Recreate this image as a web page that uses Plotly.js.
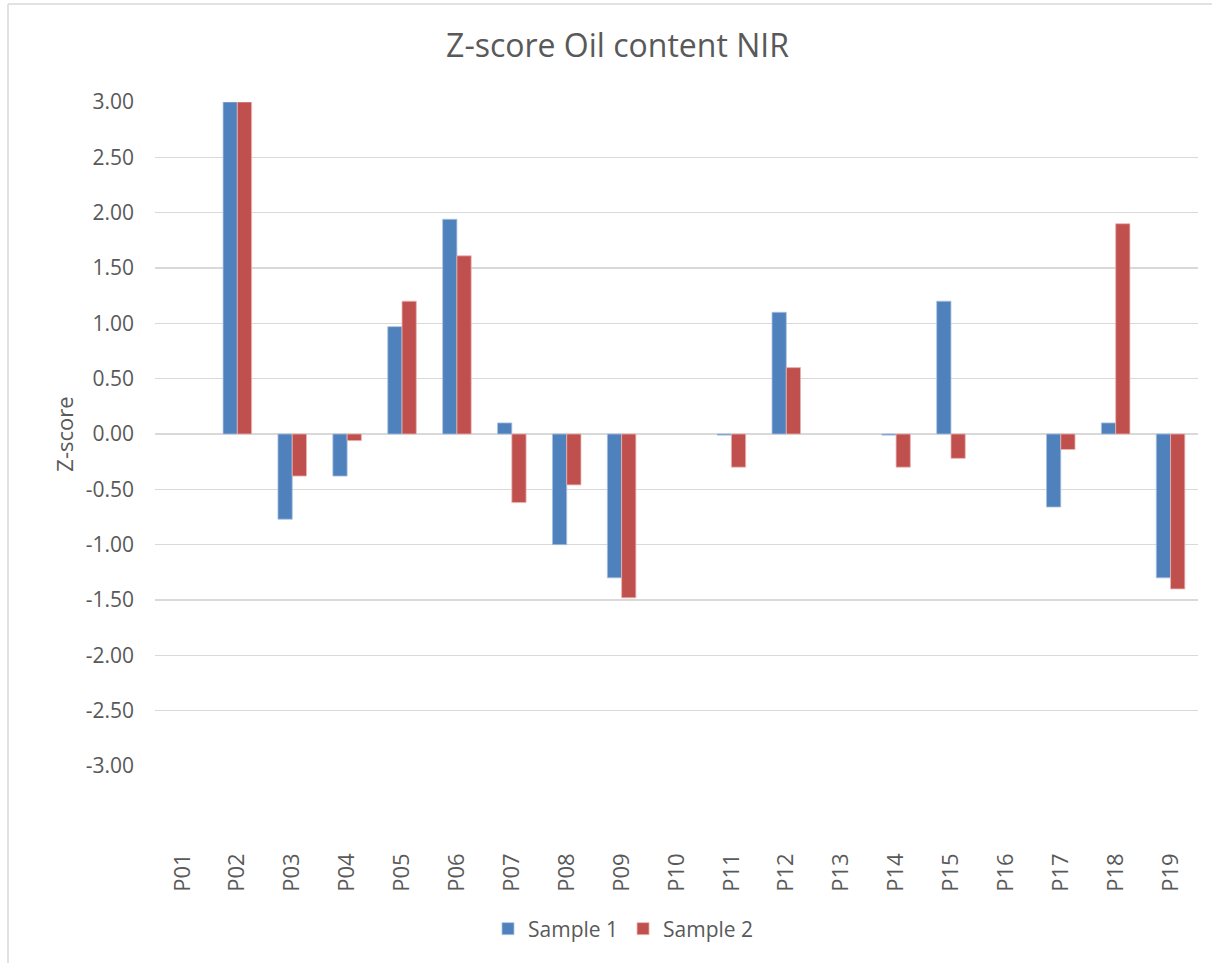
<!DOCTYPE html>
<html>
<head>
<meta charset="utf-8">
<script src="https://cdn.plot.ly/plotly-3.0.1.min.js"></script>
<style>
  html, body { margin: 0; padding: 0; background: #fff; }
  #chart { width: 1212px; height: 963px; }
</style>
</head>
<body>
<div id="chart"></div>
<script>
var categories = ["P01","P02","P03","P04","P05","P06","P07","P08","P09","P10",
                  "P11","P12","P13","P14","P15","P16","P17","P18","P19"];
var sample1 = [null, 3.00, -0.77, -0.38, 0.97, 1.94, 0.10, -1.00, -1.30, null,
               -0.01, 1.10, null, -0.01, 1.20, null, -0.66, 0.10, -1.30];
var sample2 = [null, 3.00, -0.38, -0.06, 1.20, 1.61, -0.62, -0.46, -1.48, null,
               -0.30, 0.60, null, -0.30, -0.22, null, -0.14, 1.90, -1.40];
var seriesNames = ["Sample 1", "Sample 2"];
var yTickVals = [3, 2.5, 2, 1.5, 1, 0.5, 0, -0.5, -1, -1.5, -2, -2.5, -3];
var yTickText = yTickVals.map(function (v) { return v.toFixed(2); });

var FONT = "Open Sans, sans-serif";
var TXT = "#595959";

var traces = [
  {
    type: "bar", name: seriesNames[0], x: categories, y: sample1,
    marker: { color: "#4F81BD", line: { color: "#A9C1E0", width: 0.8 } },
    hoverinfo: "x+y"
  },
  {
    type: "bar", name: seriesNames[1], x: categories, y: sample2,
    marker: { color: "#C0504D", line: { color: "#EBB5B4", width: 0.8 } },
    hoverinfo: "x+y"
  }
];

var L = 155, R = 1198, T = 102, B = 766;
function px2x(p) { return (p - L) / (R - L); }
function py2y(p) { return (B - p) / (B - T); }

var layout = {
  width: 1212, height: 963,
  margin: { l: L, r: 1212 - R, t: T, b: 963 - B, pad: 0 },
  paper_bgcolor: "#ffffff", plot_bgcolor: "#ffffff",
  font: { family: FONT, color: TXT },
  barmode: "group", bargap: 0.48, bargroupgap: 0,
  title: {
    text: "Z-score Oil content NIR",
    font: { family: FONT, size: 32, color: TXT },
    xref: "container", x: 617.5 / 1212, xanchor: "center",
    yref: "container", y: 1 - 46 / 963, yanchor: "middle"
  },
  xaxis: {
    type: "category", categoryorder: "array", categoryarray: categories,
    tickangle: -90, ticks: "", showgrid: false, zeroline: false, showline: false,
    tickfont: { family: FONT, size: 22, color: TXT },
    ticklabelstandoff: 82, automargin: false
  },
  yaxis: {
    range: [-3, 3], tickvals: yTickVals, ticktext: yTickText,
    ticks: "", showline: false,
    showgrid: true, gridcolor: "#D9D9D9", gridwidth: 1.5,
    zeroline: true, zerolinecolor: "#D9D9D9", zerolinewidth: 1.5,
    tickfont: { family: FONT, size: 21, color: TXT },
    ticklabelstandoff: 20, automargin: false,
    title: { text: "Z-score", font: { family: FONT, size: 22, color: TXT }, standoff: 6 }
  },
  showlegend: true,
  legend: {
    orientation: "h",
    xref: "container", x: 488 / 1212, xanchor: "left",
    yref: "container", y: 1 - 929 / 963, yanchor: "middle",
    font: { family: FONT, size: 21, color: TXT },
    itemwidth: 30, traceorder: "normal", bgcolor: "rgba(0,0,0,0)"
  },
  shapes: [
    { type: "line", xref: "paper", yref: "paper", layer: "below",
      x0: px2x(8), x1: px2x(8), y0: py2y(4), y1: py2y(963),
      line: { color: "#D9D9D9", width: 1.5 } },
    { type: "line", xref: "paper", yref: "paper", layer: "below",
      x0: px2x(8), x1: px2x(1212), y0: py2y(4), y1: py2y(4),
      line: { color: "#D9D9D9", width: 1.5 } }
  ]
};

Plotly.newPlot("chart", traces, layout, { staticPlot: true, displayModeBar: false });
</script>
</body>
</html>
